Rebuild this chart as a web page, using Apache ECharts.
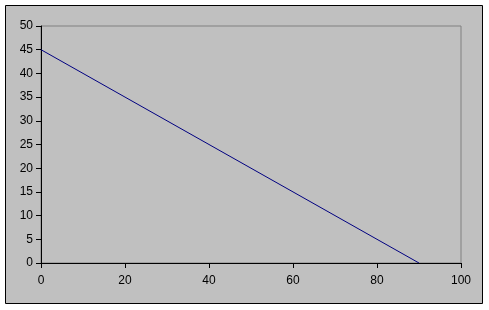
<!DOCTYPE html>
<html><head><meta charset="utf-8">
<script src="https://cdn.jsdelivr.net/npm/echarts@6/dist/echarts.min.js"></script>
<style>html,body{margin:0;padding:0;background:#fff}#c{width:489px;height:310px}</style>
</head><body><div id="c"></div>
<script>
const xValues = [0, 90];
const yValues = [45, 0];
const xTicks = [0, 20, 40, 60, 80, 100];
const yTicks = [0, 5, 10, 15, 20, 25, 30, 35, 40, 45, 50];

const chart = echarts.init(document.getElementById('c'), null, {renderer: 'canvas'});
chart.setOption({
  animation: false,
  backgroundColor: '#ffffff',
  graphic: [{
    type: 'rect', z: -10, silent: true,
    shape: {x: 5.5, y: 5.5, width: 477, height: 298},
    style: {fill: '#c0c0c0', stroke: '#000', lineWidth: 1}
  }],
  grid: {left: 41, top: 26, right: 28, bottom: 47, show: true, backgroundColor: 'transparent', borderColor: '#808080', borderWidth: 1},
  xAxis: {
    type: 'value', min: xTicks[0], max: xTicks[xTicks.length-1], interval: 20,
    axisLine: {show: true, lineStyle: {color: '#000', width: 1}},
    axisTick: {show: true, length: 5, lineStyle: {color: '#000'}},
    axisLabel: {color: '#000', fontFamily: 'Arial, "Liberation Sans"', fontSize: 12, margin: 12},
    splitLine: {show: false}
  },
  yAxis: {
    type: 'value', min: yTicks[0], max: yTicks[yTicks.length-1], interval: 5,
    axisLine: {show: true, lineStyle: {color: '#000', width: 1}},
    axisTick: {show: true, length: 5, lineStyle: {color: '#000'}},
    axisLabel: {color: '#000', fontFamily: 'Arial, "Liberation Sans"', fontSize: 12, margin: 8},
    splitLine: {show: false}
  },
  series: [{
    type: 'line',
    data: xValues.map((x, i) => [x, yValues[i]]),
    showSymbol: false,
    lineStyle: {color: '#000080', width: 1}
  }]
});
</script></body></html>
